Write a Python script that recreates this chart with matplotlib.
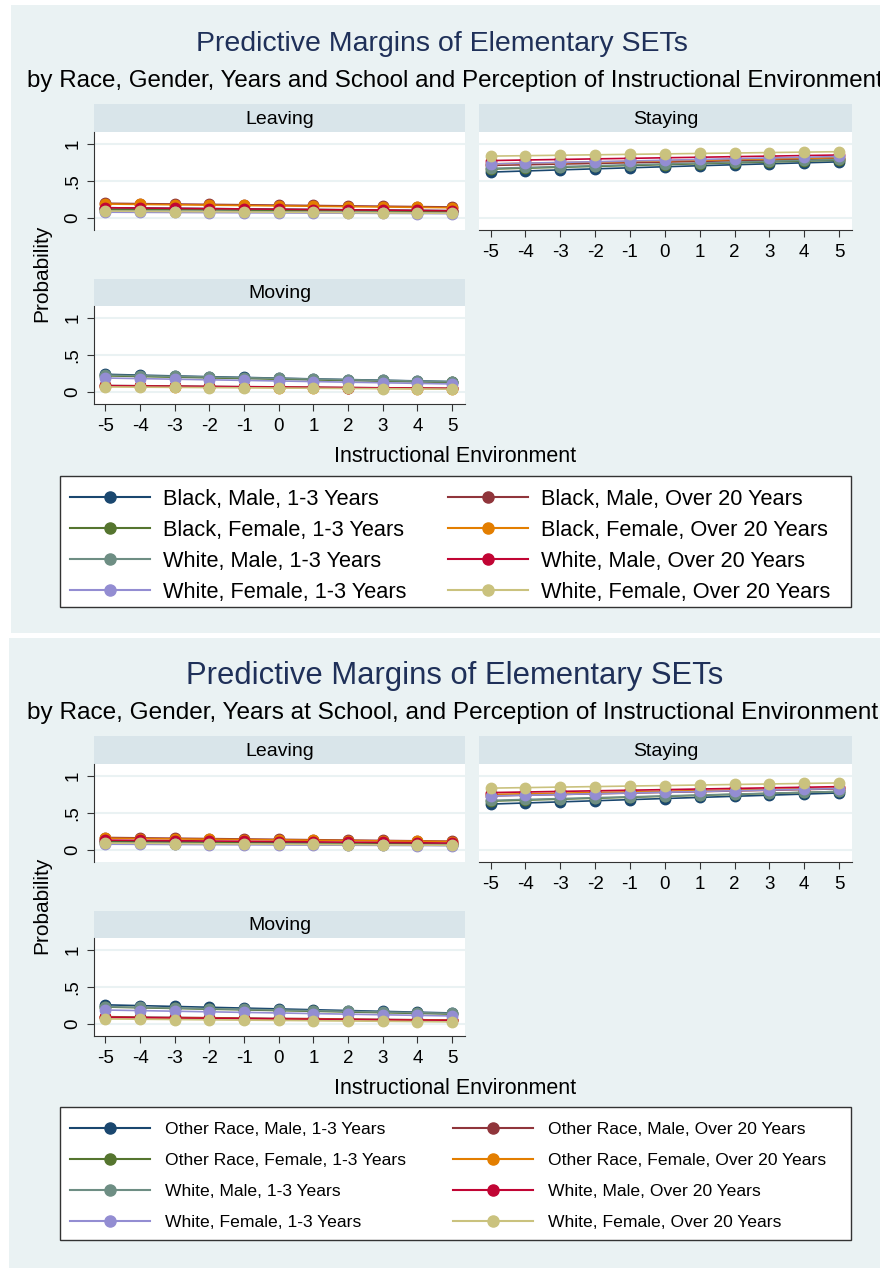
"""
Stata-style predictive margins (Leaving / Staying / Moving), two stacked graphs.
"""

import matplotlib
matplotlib.use("Agg")
import matplotlib.pyplot as plt
from matplotlib.lines import Line2D
from matplotlib.patches import Rectangle

plt.rcParams["font.family"] = ["Liberation Sans", "DejaVu Sans"]

W, H = 883, 1268

x_vals = [-5, -4, -3, -2, -1, 0, 1, 2, 3, 4, 5]
x_ticks = [-5, -4, -3, -2, -1, 0, 1, 2, 3, 4, 5]
y_ticks = [0, 0.5, 1]
y_ticklabels = ["0", ".5", "1"]

# plot order (Stata draws series 1..8); legend shows them row-wise in 2 columns
top_labels = [
    "Black, Male, 1-3 Years", "Black, Male, Over 20 Years",
    "Black, Female, 1-3 Years", "Black, Female, Over 20 Years",
    "White, Male, 1-3 Years", "White, Male, Over 20 Years",
    "White, Female, 1-3 Years", "White, Female, Over 20 Years",
]
bottom_labels = [
    "Other Race, Male, 1-3 Years", "Other Race, Male, Over 20 Years",
    "Other Race, Female, 1-3 Years", "Other Race, Female, Over 20 Years",
    "White, Male, 1-3 Years", "White, Male, Over 20 Years",
    "White, Female, 1-3 Years", "White, Female, Over 20 Years",
]
colors = ["#1a476f", "#90353b", "#55752f", "#e37e00",
          "#6e8e84", "#c10534", "#938dd2", "#cac27e"]

top_leaving = [
    [.140, .136, .132, .128, .124, .120, .116, .112, .108, .104, .100],
    [.200, .195, .190, .185, .180, .175, .170, .165, .160, .155, .150],
    [.120, .117, .114, .111, .108, .105, .102, .099, .096, .093, .090],
    [.190, .185, .180, .175, .170, .165, .160, .155, .150, .145, .140],
    [.100, .097, .094, .091, .088, .085, .082, .079, .076, .073, .070],
    [.140, .136, .132, .128, .124, .120, .116, .112, .108, .104, .100],
    [.080, .078, .076, .074, .072, .070, .068, .066, .064, .062, .060],
    [.095, .092, .089, .086, .083, .080, .077, .074, .071, .068, .065],
]
top_staying = [
    [.620, .635, .650, .664, .678, .692, .706, .719, .732, .745, .758],
    [.710, .719, .728, .737, .746, .755, .764, .773, .782, .791, .800],
    [.660, .673, .685, .697, .709, .721, .733, .745, .757, .769, .780],
    [.730, .739, .747, .756, .764, .773, .781, .790, .798, .807, .815],
    [.670, .682, .694, .706, .718, .730, .742, .754, .766, .778, .790],
    [.775, .783, .790, .798, .805, .813, .820, .828, .835, .843, .850],
    [.730, .740, .750, .760, .770, .780, .790, .800, .810, .820, .830],
    [.835, .841, .847, .853, .859, .865, .871, .877, .883, .889, .895],
]
top_moving = [
    [.240, .229, .218, .208, .198, .188, .178, .169, .160, .151, .142],
    [.090, .086, .082, .078, .074, .070, .066, .062, .058, .054, .050],
    [.220, .210, .201, .192, .183, .174, .165, .156, .147, .138, .130],
    [.080, .076, .073, .069, .066, .062, .059, .055, .052, .048, .045],
    [.230, .221, .212, .203, .194, .185, .176, .167, .158, .149, .140],
    [.085, .081, .078, .074, .071, .067, .064, .060, .057, .053, .050],
    [.190, .182, .174, .166, .158, .150, .142, .134, .126, .118, .110],
    [.070, .067, .064, .061, .058, .055, .052, .049, .046, .043, .040],
]

bottom_leaving = [
    [.120, .116, .112, .108, .104, .100, .096, .092, .088, .084, .080],
    [.170, .165, .160, .155, .150, .145, .140, .135, .130, .125, .120],
    [.110, .107, .103, .100, .096, .093, .089, .086, .082, .079, .075],
    [.160, .156, .151, .147, .142, .138, .133, .129, .124, .120, .115],
    [.095, .092, .089, .086, .083, .080, .077, .074, .071, .068, .065],
    [.135, .131, .127, .123, .119, .115, .111, .107, .103, .099, .095],
    [.080, .078, .076, .074, .072, .070, .068, .066, .064, .062, .060],
    [.095, .092, .089, .086, .083, .080, .077, .074, .071, .068, .065],
]
bottom_staying = [
    [.620, .635, .650, .665, .680, .695, .710, .725, .740, .755, .770],
    [.730, .740, .749, .759, .768, .778, .787, .797, .806, .816, .825],
    [.660, .673, .686, .699, .712, .725, .738, .751, .764, .777, .790],
    [.750, .759, .767, .776, .784, .793, .801, .810, .818, .827, .835],
    [.670, .682, .694, .706, .718, .730, .742, .754, .766, .778, .790],
    [.775, .783, .791, .799, .807, .815, .823, .831, .839, .847, .855],
    [.730, .740, .750, .760, .770, .780, .790, .800, .810, .820, .830],
    [.835, .842, .849, .856, .863, .870, .877, .884, .891, .898, .905],
]
bottom_moving = [
    [.260, .249, .238, .227, .216, .205, .194, .183, .172, .161, .150],
    [.100, .095, .091, .086, .082, .077, .073, .068, .064, .059, .055],
    [.230, .220, .211, .201, .192, .182, .173, .163, .154, .144, .135],
    [.090, .086, .082, .078, .074, .070, .066, .062, .058, .054, .050],
    [.235, .226, .217, .208, .199, .190, .181, .172, .163, .154, .145],
    [.090, .086, .082, .078, .074, .070, .066, .062, .058, .054, .050],
    [.190, .182, .174, .166, .158, .150, .142, .134, .126, .118, .110],
    [.070, .066, .062, .058, .054, .050, .046, .042, .038, .034, .030],
]

BG = "#eaf2f3"
STRIP = "#d9e5ea"
TITLE_C = "#1f3059"
AXIS_C = "#333333"


def px_axes(fig, left, top, right, bottom):
    """Axes from a pixel box measured from the top-left corner."""
    return fig.add_axes([left / W, 1 - bottom / H, (right - left) / W, (bottom - top) / H])


def px_rect(left, top, right, bottom, **kw):
    return Rectangle((left / W, 1 - bottom / H), (right - left) / W, (bottom - top) / H, **kw)


def draw_panel(fig, box, strip_top, name, series, show_x, show_y):
    left, top, right, bottom = box
    sax = px_axes(fig, left, strip_top, right, top)
    sax.set_facecolor(STRIP)
    sax.set_xticks([])
    sax.set_yticks([])
    for s in sax.spines.values():
        s.set_visible(False)
    sax.text(0.5, 0.45, name, ha="center", va="center", fontsize=14, transform=sax.transAxes)

    ax = px_axes(fig, left, top, right, bottom)
    ax.set_facecolor("white")
    for i, ys in enumerate(series):
        ax.plot(x_vals, ys, color=colors[i], lw=1.2, marker="o", ms=7.5,
                mec=colors[i], mfc=colors[i], zorder=3 + i, clip_on=False)
    ax.set_xlim(-5.33, 5.37)
    ax.set_ylim(-0.16, 1.16)
    ax.set_yticks(y_ticks)
    ax.grid(axis="y", color=BG, lw=1.5, zorder=0)
    ax.set_axisbelow(True)
    for s in ["top", "right"]:
        ax.spines[s].set_visible(False)
    ax.spines["left"].set_visible(show_y)
    ax.spines["bottom"].set_visible(show_x)
    ax.spines["left"].set_color(AXIS_C)
    ax.spines["bottom"].set_color(AXIS_C)
    if show_x:
        ax.set_xticks(x_ticks)
        ax.set_xticklabels([str(v) for v in x_ticks], fontsize=13.5)
        ax.tick_params(axis="x", length=5, color=AXIS_C, pad=5)
    else:
        ax.set_xticks([])
    if show_y:
        ax.set_yticklabels(y_ticklabels, fontsize=13.5, rotation=90, va="center")
        ax.tick_params(axis="y", length=5, color=AXIS_C, pad=4)
    else:
        ax.tick_params(axis="y", length=0, labelleft=False)
    return ax


def draw_block(fig, dy, bg_box, title, title_x, subtitle, labels, leaving, staying, moving,
               title_fs, sub_fs, leg_fs, leg_spacing, leg_handle, leg_pad, leg_border,
               leg_box, leg_area):
    bg = px_rect(*bg_box, transform=fig.transFigure, facecolor=BG, edgecolor="none", zorder=-5)
    fig.patches.append(bg)

    fig.text(title_x / W, 1 - (44 + dy) / H, title, ha="center", va="center",
             fontsize=title_fs, color=TITLE_C)
    st = fig.text(27 / W, 1 - (81 + dy) / H, subtitle, ha="left", va="center",
                  fontsize=sub_fs, color="black")
    st.set_clip_path(bg)

    draw_panel(fig, (94, 132 + dy, 465, 230 + dy), 104 + dy, "Leaving", leaving, False, True)
    draw_panel(fig, (479, 132 + dy, 852, 230 + dy), 104 + dy, "Staying", staying, True, False)
    draw_panel(fig, (94, 306 + dy, 465, 404 + dy), 279 + dy, "Moving", moving, True, True)

    fig.text(455 / W, 1 - (456 + dy) / H, "Instructional Environment", ha="center",
             va="center", fontsize=15.5)
    fig.text(42 / W, 1 - (273 + dy) / H, "Probability", ha="center", va="center",
             rotation=90, fontsize=15)

    # legend frame drawn separately so the entries can sit where Stata puts them
    frame = px_rect(*leg_box, transform=fig.transFigure, facecolor="white",
                    edgecolor="#333333", lw=1.0, zorder=1)
    fig.patches.append(frame)

    handles = [Line2D([], [], color=c, lw=1.5, marker="o", ms=8) for c in colors]
    order = [0, 2, 4, 6, 1, 3, 5, 7]
    ax0, ay0, ax1, ay1 = leg_area
    leg = fig.legend([handles[i] for i in order], [labels[i] for i in order],
                     ncol=2, loc="upper left", mode="expand",
                     bbox_to_anchor=(ax0 / W, 1 - ay1 / H, (ax1 - ax0) / W, (ay1 - ay0) / H),
                     fontsize=leg_fs, frameon=False, labelspacing=leg_spacing,
                     handlelength=leg_handle, handletextpad=leg_pad,
                     borderpad=leg_border, borderaxespad=0)
    leg.set_zorder(2)


fig = plt.figure(figsize=(W / 100, H / 100), dpi=100)
fig.patch.set_facecolor("white")

draw_block(fig, 0, (11, 5, 880, 633),
           "Predictive Margins of Elementary SETs", 442,
           "by Race, Gender, Years and School and Perception of Instructional Environment",
           top_labels, top_leaving, top_staying, top_moving,
           title_fs=20.5, sub_fs=17.4, leg_fs=15.7, leg_spacing=0.45, leg_handle=3.67,
           leg_pad=0.6, leg_border=0.6,
           leg_box=(60, 476, 851, 607), leg_area=(57, 476, 843, 607))

draw_block(fig, 632, (9, 638, 880, 1268),
           "Predictive Margins of Elementary SETs", 455,
           "by Race, Gender, Years at School, and Perception of Instructional Environment",
           bottom_labels, bottom_leaving, bottom_staying, bottom_moving,
           title_fs=22.3, sub_fs=17.6, leg_fs=12.6, leg_spacing=0.91, leg_handle=4.57,
           leg_pad=0.86, leg_border=0.84,
           leg_box=(60, 1107, 851, 1240), leg_area=(55, 1107, 841, 1240))

fig.savefig("out.png", dpi=100, facecolor=fig.get_facecolor())
